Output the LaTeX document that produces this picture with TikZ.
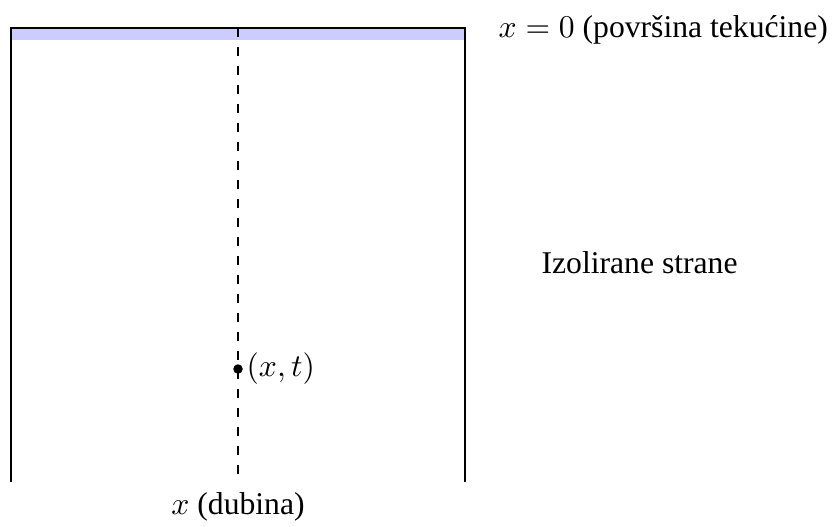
\documentclass[tikz,border=0pt]{standalone}
\usepackage[no-math]{fontspec}
\setmainfont{Liberation Serif}
\begin{document}
\begin{tikzpicture}[x=0.316pt,y=-0.316pt,
  wall/.style={line width=0.8pt},
  lbl/.style={inner sep=0pt, font=\fontsize{10}{12}\selectfont}]
\useasboundingbox (0,0) rectangle (840,526);
\coordinate (tl) at (11,28);
\coordinate (tr) at (465,28);
\coordinate (bl) at (11,482);
\coordinate (br) at (465,482);
\coordinate (dt) at (238,28);
\coordinate (db) at (238,482);
\fill[blue!20] (tl) rectangle (465,40);
\draw[wall] (bl) -- (tl) -- (tr) -- (br);
\draw[dashed, line width=0.4pt] (dt) -- (db);
\node[circle, fill=black, inner sep=0pt, minimum size=3pt] (p) at (238,369) {};
\node[lbl, anchor=west] (pl) at (246,369) {$(x,t)$};
\node[lbl] (dub) at (238,507) {$x$ (dubina)};
\node[lbl, anchor=west] (surf) at (498,30) {$x=0$ (površina tekućine)};
\node[lbl, anchor=west] (iz) at (541,263) {Izolirane strane};
\end{tikzpicture}
\end{document}
